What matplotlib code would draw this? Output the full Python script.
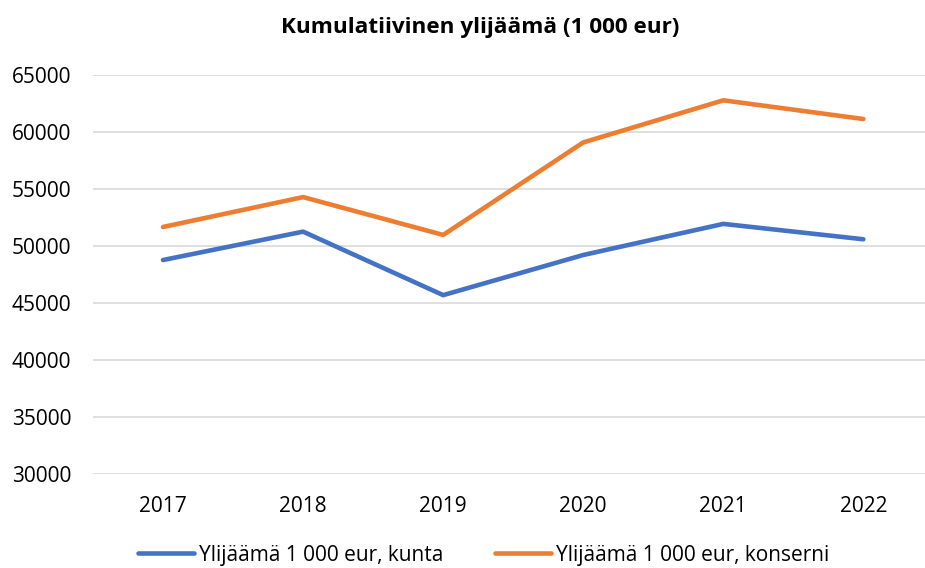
import matplotlib.pyplot as plt

plt.rcParams['font.family'] = ['Open Sans', 'DejaVu Sans']

years = ['2017', '2018', '2019', '2020', '2021', '2022']
kunta = [48770, 51260, 45690, 49210, 51940, 50590]
konserni = [51670, 54290, 50970, 59085, 62780, 61140]

fig = plt.figure(figsize=(9.25, 5.68), dpi=100)
ax = fig.add_axes([93 / 925, 1 - 474 / 568, (925 - 93) / 925, 399 / 568])

x = range(len(years))
ax.plot(x, kunta, color='#4472C4', linewidth=3.3, solid_capstyle='round',
        label='Ylijäämä 1 000 eur, kunta')
ax.plot(x, konserni, color='#ED7D31', linewidth=3.3, solid_capstyle='round',
        label='Ylijäämä 1 000 eur, konserni')

ax.set_xlim(-0.5, 5.44)
ax.set_ylim(30000, 65000)
ax.set_yticks(range(30000, 65001, 5000))
ax.set_xticks(list(x))
ax.set_xticklabels(years)
ax.grid(axis='y', color='#D9D9D9', linewidth=1.2)
ax.set_axisbelow(True)
for s in ax.spines.values():
    s.set_visible(False)
ax.tick_params(length=0, labelsize=15, colors='#000000')
ax.tick_params(axis='y', pad=15.5)
ax.tick_params(axis='x', pad=16)

fig.text(0.519, 1 - 27 / 568, 'Kumulatiivinen ylijäämä (1 000 eur)',
         ha='center', va='center', fontsize=16.2, fontweight='bold')

fig.legend(loc='center', bbox_to_anchor=(0.523, 1 - 555 / 568), ncol=2,
           frameon=False, fontsize=15, handlelength=2.7, handletextpad=0.24,
           columnspacing=2.45)

fig.savefig('out.png', dpi=100)
